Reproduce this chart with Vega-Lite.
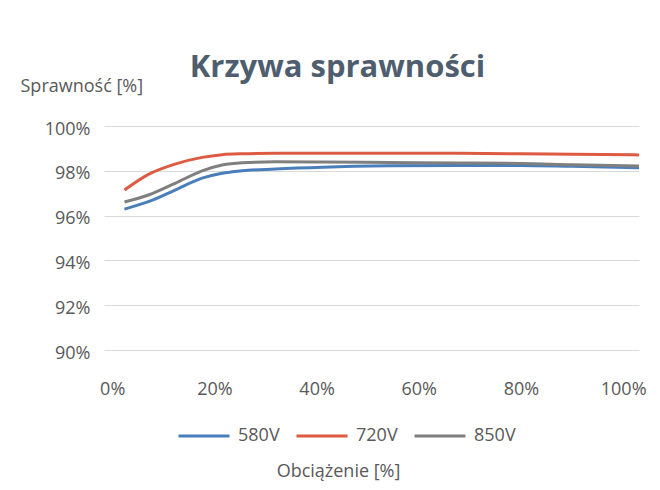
{
  "$schema": "https://vega.github.io/schema/vega-lite/v6.json",
  "width": 535,
  "height": 224,
  "autosize": {"type": "none"},
  "padding": {"left": 104, "top": 126, "right": 21, "bottom": 140},
  "background": "white",
  "title": {
    "text": "Krzywa sprawności",
    "anchor": "middle",
    "frame": "group",
    "dx": -34,
    "dy": 35,
    "fontSize": 31,
    "font": "Open Sans",
    "fontWeight": "bold",
    "color": "#4f5e6e",
    "baseline": "alphabetic",
    "offset": 4
  },
  "config": {
    "view": {"stroke": null},
    "font": "Open Sans"
  },
  "data": {
    "values": [
      {"load": 2.4, "series": "580V", "eff": 96.29},
      {"load": 7.1, "series": "580V", "eff": 96.62},
      {"load": 12.3, "series": "580V", "eff": 97.14},
      {"load": 17.6, "series": "580V", "eff": 97.67},
      {"load": 21.5, "series": "580V", "eff": 97.89},
      {"load": 25.4, "series": "580V", "eff": 98.0},
      {"load": 31.9, "series": "580V", "eff": 98.08},
      {"load": 41.3, "series": "580V", "eff": 98.16},
      {"load": 54.4, "series": "580V", "eff": 98.22},
      {"load": 68.1, "series": "580V", "eff": 98.24},
      {"load": 79.8, "series": "580V", "eff": 98.24},
      {"load": 90.0, "series": "580V", "eff": 98.2},
      {"load": 103.1, "series": "580V", "eff": 98.14},
      {"load": 2.4, "series": "720V", "eff": 97.14},
      {"load": 7.1, "series": "720V", "eff": 97.84},
      {"load": 12.3, "series": "720V", "eff": 98.3},
      {"load": 17.6, "series": "720V", "eff": 98.6},
      {"load": 21.5, "series": "720V", "eff": 98.72},
      {"load": 25.4, "series": "720V", "eff": 98.76},
      {"load": 31.9, "series": "720V", "eff": 98.78},
      {"load": 41.3, "series": "720V", "eff": 98.78},
      {"load": 54.4, "series": "720V", "eff": 98.78},
      {"load": 68.1, "series": "720V", "eff": 98.78},
      {"load": 79.8, "series": "720V", "eff": 98.76},
      {"load": 90.0, "series": "720V", "eff": 98.74},
      {"load": 103.1, "series": "720V", "eff": 98.71},
      {"load": 2.4, "series": "850V", "eff": 96.61},
      {"load": 7.1, "series": "850V", "eff": 96.92},
      {"load": 12.3, "series": "850V", "eff": 97.44},
      {"load": 17.6, "series": "850V", "eff": 98.0},
      {"load": 21.5, "series": "850V", "eff": 98.26},
      {"load": 25.4, "series": "850V", "eff": 98.36},
      {"load": 31.9, "series": "850V", "eff": 98.4},
      {"load": 41.3, "series": "850V", "eff": 98.39},
      {"load": 54.4, "series": "850V", "eff": 98.37},
      {"load": 68.1, "series": "850V", "eff": 98.35},
      {"load": 79.8, "series": "850V", "eff": 98.33},
      {"load": 90.0, "series": "850V", "eff": 98.27},
      {"load": 103.1, "series": "850V", "eff": 98.21}
    ]
  },
  "mark": {"type": "line", "interpolate": "monotone", "strokeWidth": 3, "clip": false},
  "encoding": {
    "x": {
      "field": "load",
      "type": "quantitative",
      "scale": {"domain": [-1.6, 103.1], "nice": false, "zero": false},
      "axis": {
        "values": [0, 20, 40, 60, 80, 100],
        "labelExpr": "datum.value + '%'",
        "grid": false,
        "domain": false,
        "ticks": false,
        "tickSize": 0,
        "labelPadding": 30,
        "labelFontSize": 18,
        "labelColor": "#595959",
        "labelFont": "Open Sans",
        "title": "Obciążenie [%]",
        "titleFontSize": 18,
        "titleFontWeight": "normal",
        "titleColor": "#595959",
        "titleFont": "Open Sans",
        "titleX": 234,
        "titleY": 126,
        "titleAlign": "center",
        "titleBaseline": "alphabetic"
      }
    },
    "y": {
      "field": "eff",
      "type": "quantitative",
      "scale": {"domain": [90, 100], "nice": false, "zero": false},
      "axis": {
        "values": [90, 92, 94, 96, 98, 100],
        "labelExpr": "datum.value + '%'",
        "grid": true,
        "gridColor": "#d9d9d9",
        "gridWidth": 1,
        "domain": false,
        "ticks": false,
        "tickSize": 0,
        "labelPadding": 14,
        "labelOffset": 3,
        "labelFontSize": 18,
        "labelColor": "#595959",
        "labelFont": "Open Sans",
        "title": "Sprawność [%]",
        "titleFontSize": 18,
        "titleFontWeight": "normal",
        "titleColor": "#595959",
        "titleFont": "Open Sans",
        "titleAngle": 0,
        "titleX": -84,
        "titleY": -35,
        "titleAlign": "left",
        "titleBaseline": "alphabetic"
      }
    },
    "color": {
      "field": "series",
      "type": "nominal",
      "scale": {"domain": ["580V", "720V", "850V"], "range": ["#4a7ebb", "#de5b43", "#7f7f7f"]},
      "legend": {
        "title": null,
        "orient": "none",
        "direction": "horizontal",
        "legendX": 73,
        "legendY": 283,
        "symbolType": "stroke",
        "symbolSize": 2601,
        "symbolStrokeWidth": 3,
        "labelFontSize": 18,
        "labelColor": "#595959",
        "labelFont": "Open Sans",
        "labelOffset": 7,
        "columnPadding": 10
      }
    }
  }
}
